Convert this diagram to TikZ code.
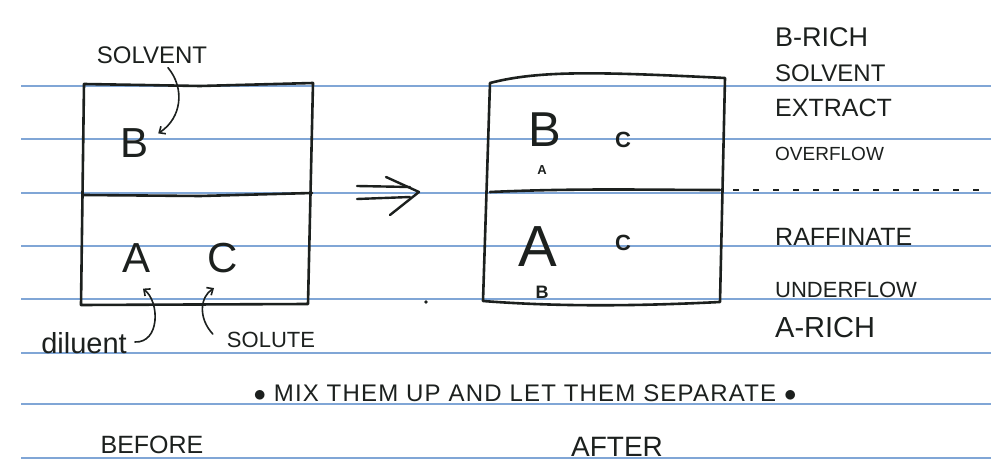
\documentclass[tikz,border=0pt]{standalone}
\usepackage{fontspec}
\setmainfont{Liberation Sans}
\usetikzlibrary{arrows.meta,calc}
\definecolor{rulecol}{RGB}{128,166,214}
\definecolor{inkcol}{RGB}{28,32,30}
\newcommand{\fsz}[1]{\fontsize{#1}{#1}\selectfont}
\begin{document}
\begin{tikzpicture}[x=1pt,y=-1pt,
  ruleline/.style={draw=rulecol, line width=1.6pt},
  boxline/.style={draw=inkcol, line width=2.6pt, line join=round, line cap=round},
  lbl/.style={text=inkcol, inner sep=0pt},
  pointer/.style={draw=inkcol, line width=1.6pt, line cap=round, -{Straight Barb[length=5pt,width=9pt]}},
  thinpen/.style={draw=inkcol, line width=2.4pt, line cap=round, line join=round}]
% background and bounds
\fill[white] (0,0) rectangle (991,465);
\useasboundingbox (0,0) rectangle (991,465);
% ruled paper lines
\foreach \yy in {86,139,193,246,299,353,404,458}
  \draw[ruleline] (21,\yy) -- (991,\yy);

% ---------- BEFORE box ----------
\draw[boxline] (84,84) -- (200,86) -- (313,83) -- (308,304) -- (81,305) -- cycle;
\draw[boxline] (84,195) -- (200,196) -- (312,193);

\node[lbl, font=\fsz{24}] (solv) at (152,55) {SOLVENT};
\node[lbl, font=\fsz{42}] (bl) at (135,143) {B};
\node[lbl, font=\fsz{42}] (al) at (137,258) {A};
\node[lbl, font=\fsz{42}] (cl) at (223,258) {C};
\node[lbl, font=\fsz{29}] (dil) at (84,343) {diluent};
\node[lbl, font=\fsz{22}] (solu) at (271,340) {SOLUTE};

\coordinate (solvtail) at ($(solv.south)+(16,4)$);
\coordinate (bhead) at ($(bl.north east)+(9,5)$);
\draw[pointer] (solvtail) .. controls (185,88) and (182,118) .. (bhead);

\coordinate (diltail) at ($(dil.east)+(8,-1)$);
\coordinate (ahead) at ($(al.south)+(6,16)$);
\draw[pointer] (diltail) .. controls (160,343) and (160,302) .. (ahead);

\coordinate (solutail) at ($(solu.west)+(-14,-6)$);
\coordinate (chead) at ($(cl.south)+(-9,15)$);
\draw[pointer] (solutail) .. controls (198,318) and (200,297) .. (chead);

% ---------- arrow ----------
\draw[thinpen] (357,186) -- (410,187);
\draw[thinpen] (357,199) -- (410,197);
\draw[thinpen] (386,177) -- (419,192) -- (390,215);

% stray dot
\fill[inkcol] (426,302) circle (1.8pt);

% ---------- AFTER box ----------
\draw[boxline] (490,83) .. controls (540,70) and (600,72) .. (725,78) -- (720,302)
  .. controls (640,306) and (560,307) .. (483,301) -- cycle;
\draw[boxline] (490,192) .. controls (580,188) and (650,190) .. (720,190);

\node[lbl, font=\fsz{49}] (b2) at (545,130) {B};
\node[lbl, font=\fsz{22}\bfseries] (c2) at (623,140) {C};
\node[lbl, font=\fsz{13}\bfseries] (a3) at (542,170) {A};
\node[lbl, font=\fsz{58}] (a2) at (538,247) {A};
\node[lbl, font=\fsz{22}\bfseries] (c3) at (623,243) {C};
\node[lbl, font=\fsz{18}\bfseries] (b3) at (542,292) {B};

% dashed interface line
\draw[draw=inkcol, line width=1.3pt, dash pattern=on 6pt off 14pt] (733,190) -- (991,190);

% ---------- right labels ----------
\node[lbl, font=\fsz{27}, anchor=west] (brich) at (775,37) {B-RICH};
\node[lbl, font=\fsz{24}, anchor=west] (solv2) at (775,73) {SOLVENT};
\node[lbl, font=\fsz{25}, anchor=west] (extr) at (775,108) {EXTRACT};
\node[lbl, font=\fsz{19}, anchor=west] (over) at (775,154) {OVERFLOW};
\node[lbl, font=\fsz{25}, anchor=west] (raff) at (775,237) {RAFFINATE};
\node[lbl, font=\fsz{22}, anchor=west] (under) at (775,290) {UNDERFLOW};
\node[lbl, font=\fsz{29}, anchor=west] (arich) at (775,328) {A-RICH};

% ---------- bottom text ----------
\node[lbl, font=\fsz{24}\addfontfeature{LetterSpace=5}] (mix) at (525,393) {$\bullet$\ MIX THEM UP AND LET THEM SEPARATE $\bullet$};
\node[lbl, font=\fsz{25}] (before) at (152,445) {BEFORE};
\node[lbl, font=\fsz{28}] (after) at (617,447) {AFTER};
\end{tikzpicture}
\end{document}
